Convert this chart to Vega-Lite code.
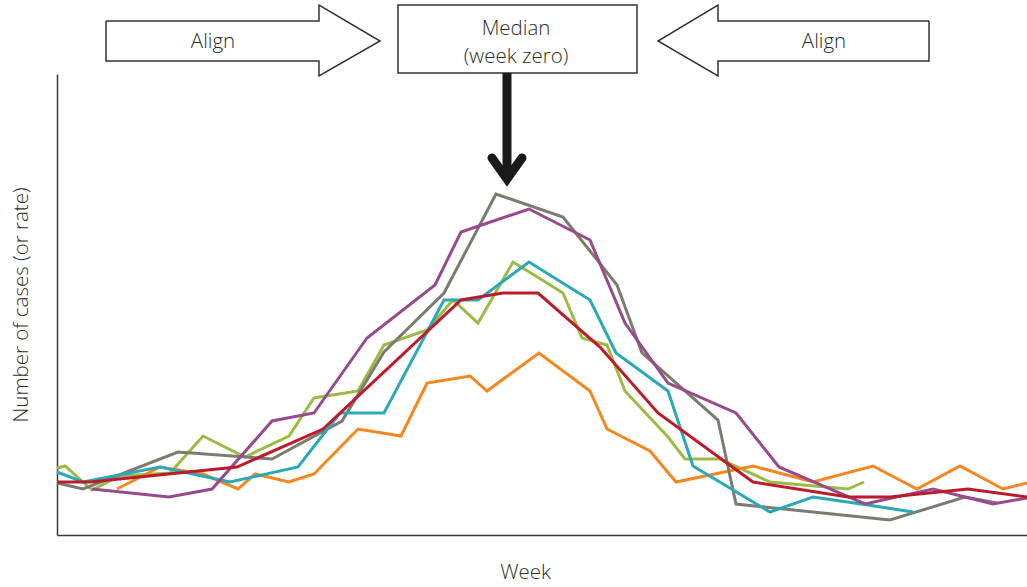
{
  "$schema": "https://vega.github.io/schema/vega-lite/v6.json",
  "width": 970,
  "height": 461,
  "autosize": {"type": "none"},
  "padding": {"left": 57, "top": 74, "right": 0, "bottom": 52},
  "background": "white",
  "config": {
    "view": {"stroke": null},
    "font": "Open Sans",
    "axis": {"grid": false, "ticks": false, "labels": false, "domainColor": "#3a3a3a", "domainWidth": 1.5, "titleFont": "Open Sans", "titleFontSize": 20.5, "titleFontWeight": 300, "titleColor": "#2e2e2e"}
  },
  "datasets": {
    "lines": [
      {"series": "green", "week": -45.0, "cases": 67}, {"series": "green", "week": -44.2, "cases": 69}, {"series": "green", "week": -41.5, "cases": 45}, {"series": "green", "week": -38.7, "cases": 59}, {"series": "green", "week": -33.7, "cases": 62}, {"series": "green", "week": -30.4, "cases": 99}, {"series": "green", "week": -26.2, "cases": 78}, {"series": "green", "week": -21.8, "cases": 99}, {"series": "green", "week": -19.3, "cases": 137}, {"series": "green", "week": -14.9, "cases": 144}, {"series": "green", "week": -12.3, "cases": 190}, {"series": "green", "week": -8.0, "cases": 205}, {"series": "green", "week": -5.4, "cases": 235}, {"series": "green", "week": -2.9, "cases": 212}, {"series": "green", "week": 0.6, "cases": 273}, {"series": "green", "week": 3.2, "cases": 257}, {"series": "green", "week": 5.6, "cases": 242}, {"series": "green", "week": 7.5, "cases": 197}, {"series": "green", "week": 10.0, "cases": 190}, {"series": "green", "week": 11.8, "cases": 144}, {"series": "green", "week": 16.1, "cases": 98}, {"series": "green", "week": 17.8, "cases": 76}, {"series": "green", "week": 21.3, "cases": 76}, {"series": "green", "week": 26.3, "cases": 53}, {"series": "green", "week": 34.1, "cases": 46}, {"series": "green", "week": 35.7, "cases": 53},
      {"series": "orange", "week": -39.0, "cases": 46}, {"series": "orange", "week": -34.7, "cases": 68}, {"series": "orange", "week": -30.4, "cases": 61}, {"series": "orange", "week": -26.9, "cases": 46}, {"series": "orange", "week": -25.2, "cases": 61}, {"series": "orange", "week": -21.8, "cases": 53}, {"series": "orange", "week": -19.3, "cases": 61}, {"series": "orange", "week": -14.9, "cases": 106}, {"series": "orange", "week": -10.6, "cases": 99}, {"series": "orange", "week": -8.0, "cases": 152}, {"series": "orange", "week": -3.7, "cases": 159}, {"series": "orange", "week": -2.0, "cases": 144}, {"series": "orange", "week": 3.2, "cases": 182}, {"series": "orange", "week": 8.3, "cases": 144}, {"series": "orange", "week": 10.0, "cases": 106}, {"series": "orange", "week": 14.3, "cases": 84}, {"series": "orange", "week": 16.9, "cases": 53}, {"series": "orange", "week": 24.6, "cases": 69}, {"series": "orange", "week": 30.6, "cases": 53}, {"series": "orange", "week": 36.6, "cases": 69}, {"series": "orange", "week": 41.0, "cases": 46}, {"series": "orange", "week": 45.3, "cases": 69}, {"series": "orange", "week": 49.6, "cases": 46}, {"series": "orange", "week": 52.0, "cases": 52},
      {"series": "gray", "week": -45.0, "cases": 52}, {"series": "gray", "week": -42.4, "cases": 46}, {"series": "gray", "week": -32.9, "cases": 83}, {"series": "gray", "week": -23.5, "cases": 76}, {"series": "gray", "week": -16.5, "cases": 114}, {"series": "gray", "week": -12.3, "cases": 183}, {"series": "gray", "week": -6.3, "cases": 242}, {"series": "gray", "week": -1.1, "cases": 341}, {"series": "gray", "week": 5.6, "cases": 318}, {"series": "gray", "week": 11.0, "cases": 250}, {"series": "gray", "week": 13.5, "cases": 182}, {"series": "gray", "week": 21.1, "cases": 115}, {"series": "gray", "week": 22.9, "cases": 31}, {"series": "gray", "week": 38.3, "cases": 15}, {"series": "gray", "week": 45.8, "cases": 38}, {"series": "gray", "week": 49.0, "cases": 32},
      {"series": "teal", "week": -45.0, "cases": 63}, {"series": "teal", "week": -42.4, "cases": 53}, {"series": "teal", "week": -34.7, "cases": 68}, {"series": "teal", "week": -27.7, "cases": 53}, {"series": "teal", "week": -20.9, "cases": 68}, {"series": "teal", "week": -16.7, "cases": 122}, {"series": "teal", "week": -12.3, "cases": 122}, {"series": "teal", "week": -6.3, "cases": 235}, {"series": "teal", "week": -2.9, "cases": 235}, {"series": "teal", "week": 2.2, "cases": 273}, {"series": "teal", "week": 8.3, "cases": 235}, {"series": "teal", "week": 10.9, "cases": 182}, {"series": "teal", "week": 16.1, "cases": 144}, {"series": "teal", "week": 18.6, "cases": 69}, {"series": "teal", "week": 26.3, "cases": 23}, {"series": "teal", "week": 30.6, "cases": 38}, {"series": "teal", "week": 36.1, "cases": 30}, {"series": "teal", "week": 40.6, "cases": 23},
      {"series": "purple", "week": -41.5, "cases": 46}, {"series": "purple", "week": -33.8, "cases": 38}, {"series": "purple", "week": -29.5, "cases": 46}, {"series": "purple", "week": -23.5, "cases": 114}, {"series": "purple", "week": -19.3, "cases": 122}, {"series": "purple", "week": -14.0, "cases": 197}, {"series": "purple", "week": -7.2, "cases": 250}, {"series": "purple", "week": -4.6, "cases": 303}, {"series": "purple", "week": 2.2, "cases": 326}, {"series": "purple", "week": 8.3, "cases": 295}, {"series": "purple", "week": 11.8, "cases": 212}, {"series": "purple", "week": 16.1, "cases": 152}, {"series": "purple", "week": 22.9, "cases": 122}, {"series": "purple", "week": 27.2, "cases": 68}, {"series": "purple", "week": 35.8, "cases": 31}, {"series": "purple", "week": 42.6, "cases": 46}, {"series": "purple", "week": 48.6, "cases": 31}, {"series": "purple", "week": 52.0, "cases": 37},
      {"series": "red", "week": -45.0, "cases": 53}, {"series": "red", "week": -41.7, "cases": 53}, {"series": "red", "week": -27.0, "cases": 68}, {"series": "red", "week": -18.4, "cases": 106}, {"series": "red", "week": -4.6, "cases": 235}, {"series": "red", "week": -0.4, "cases": 242}, {"series": "red", "week": 3.1, "cases": 242}, {"series": "red", "week": 9.3, "cases": 188}, {"series": "red", "week": 15.1, "cases": 122}, {"series": "red", "week": 24.6, "cases": 53}, {"series": "red", "week": 34.1, "cases": 38}, {"series": "red", "week": 38.3, "cases": 38}, {"series": "red", "week": 46.1, "cases": 46}, {"series": "red", "week": 52.0, "cases": 38}
    ],
    "arrows": [
      {"arrow": "left", "i": 0, "week": -40.1, "cases": 514}, {"arrow": "left", "i": 1, "week": -18.8, "cases": 514}, {"arrow": "left", "i": 2, "week": -18.8, "cases": 530}, {"arrow": "left", "i": 3, "week": -12.7, "cases": 494}, {"arrow": "left", "i": 4, "week": -18.8, "cases": 459}, {"arrow": "left", "i": 5, "week": -18.8, "cases": 474}, {"arrow": "left", "i": 6, "week": -40.1, "cases": 474}, {"arrow": "left", "i": 7, "week": -40.1, "cases": 514},
      {"arrow": "right", "i": 0, "week": 42.2, "cases": 514}, {"arrow": "right", "i": 1, "week": 21.1, "cases": 514}, {"arrow": "right", "i": 2, "week": 21.1, "cases": 530}, {"arrow": "right", "i": 3, "week": 15.1, "cases": 494}, {"arrow": "right", "i": 4, "week": 21.1, "cases": 459}, {"arrow": "right", "i": 5, "week": 21.1, "cases": 474}, {"arrow": "right", "i": 6, "week": 42.2, "cases": 474}, {"arrow": "right", "i": 7, "week": 42.2, "cases": 514}
    ],
    "box": [{"week": -10.9, "week2": 13.0, "cases": 530, "cases2": 462}],
    "shaft": [{"week": 0, "cases": 462, "cases2": 362}],
    "head": [{"i": 0, "week": -1.5, "cases": 377}, {"i": 1, "week": 0, "cases": 356}, {"i": 2, "week": 1.5, "cases": 377}],
    "labels": [
      {"label": "Align", "week": -29.4, "cases": 493},
      {"label": "Align", "week": 31.7, "cases": 493},
      {"label": "Median", "week": 0.9, "cases": 506},
      {"label": "(week zero)", "week": 0.9, "cases": 478}
    ]
  },
  "encoding": {
    "x": {"field": "week", "type": "quantitative", "scale": {"domain": [-45, 52], "nice": false, "zero": false}, "axis": {"title": "Week", "titlePadding": 27, "titleX": 468}},
    "y": {"field": "cases", "type": "quantitative", "scale": {"domain": [0, 461], "nice": false, "zero": false}, "axis": {"title": "Number of cases (or rate)", "titlePadding": 26}}
  },
  "layer": [
    {
      "data": {"name": "lines"},
      "mark": {"type": "line", "strokeWidth": 3, "strokeJoin": "miter"},
      "encoding": {
        "color": {"field": "series", "type": "nominal", "legend": null, "scale": {"domain": ["green", "orange", "gray", "teal", "purple", "red"], "range": ["#9bbb45", "#f7861f", "#7b7b70", "#2ba9b9", "#984a8c", "#bd1a2b"]}},
        "strokeWidth": {"field": "series", "type": "nominal", "legend": null, "scale": {"domain": ["green", "orange", "gray", "teal", "purple", "red"], "range": [3, 3, 3, 3, 3, 3.5]}}
      }
    },
    {
      "data": {"name": "arrows"},
      "mark": {"type": "line", "color": "#333333", "strokeWidth": 1.5, "strokeJoin": "miter"},
      "encoding": {"detail": {"field": "arrow"}, "order": {"field": "i", "type": "quantitative"}}
    },
    {
      "data": {"name": "box"},
      "mark": {"type": "rect", "fill": "white", "stroke": "#333333", "strokeWidth": 1.5},
      "encoding": {"x2": {"field": "week2"}, "y2": {"field": "cases2"}}
    },
    {
      "data": {"name": "shaft"},
      "mark": {"type": "rule", "color": "#1a1a1a", "strokeWidth": 9},
      "encoding": {"y2": {"field": "cases2"}}
    },
    {
      "data": {"name": "head"},
      "mark": {"type": "line", "color": "#1a1a1a", "strokeWidth": 9, "strokeJoin": "miter", "strokeCap": "round"},
      "encoding": {"order": {"field": "i", "type": "quantitative"}}
    },
    {
      "data": {"name": "labels"},
      "mark": {"type": "text", "font": "Open Sans", "fontSize": 20.5, "fontWeight": 300, "color": "#2e2e2e", "align": "center", "baseline": "middle"},
      "encoding": {"text": {"field": "label"}}
    }
  ]
}
